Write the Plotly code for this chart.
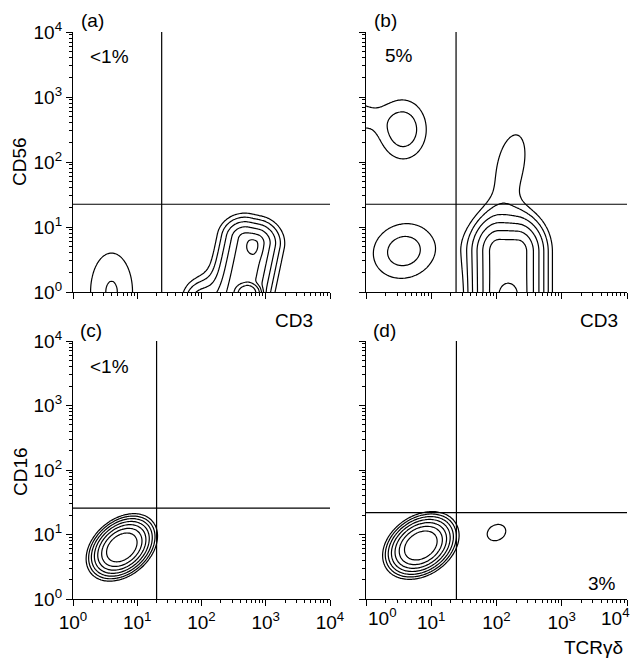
import numpy as np
import plotly.graph_objects as go

W, H = 639, 668
FONT = "Liberation Sans, Arial, Helvetica, sans-serif"

# ---------------- data ----------------
panel_names = ["(a)", "(b)", "(c)", "(d)"]
percent_text = ["<1%", "5%", "<1%", "3%"]
gate_x = [24.0, 24.0, 20.0, 24.3]      # vertical quadrant marker (x value)
gate_y = [22.4, 22.4, 25.7, 21.9]      # horizontal quadrant marker (y value)

tick_vals = [1, 10, 100, 1000, 10000]
tick_text = ["10<sup>0</sup>", "10<sup>1</sup>", "10<sup>2</sup>", "10<sup>3</sup>", "10<sup>4</sup>"]

# contour levels (log10 of relative event density)
level_start = -1.17
level_step = 0.165
level_count = 7

# cell populations per panel, in log10 units:
# centre u (x), centre v (y), fall-off su, sv, core half-size hu, hv,
# tilt (deg), fall-off exponent k, weight
pop_a_u = [0.60, 2.58, 2.80, 2.73, 1.95]
pop_a_v = [-0.30, -0.10, 0.70, -0.02, -0.15]
pop_a_su = [0.36, 0.196, 0.08, 0.16, 0.20]
pop_a_sv = [0.66, 0.18, 0.10, 0.123, 0.25]
pop_a_hu = [0.0, 0.08, 0.0, 0.0, 0.0]
pop_a_hv = [0.30, 0.90, 0.0, 0.0, 0.0]
pop_a_ang = [0, -12, 0, 0, 0]
pop_a_k = [2, 1.5, 2, 4, 2]
pop_a_w = [0.102, 0.389, 0.13, 0.45, 0.14]

pop_b_u = [0.57, -0.30, 0.58, 2.18, 2.22, 2.18]
pop_b_v = [2.50, 2.72, 0.63, -0.19, 1.97, -0.04]
pop_b_su = [0.33, 0.30, 0.46, 0.20, 0.25, 0.12]
pop_b_sv = [0.42, 0.22, 0.40, 0.25, 0.58, 0.15]
pop_b_hu = [0.0, 0.0, 0.0, 0.14, 0.0, 0.0]
pop_b_hv = [0.0, 0.0, 0.0, 0.81, 0.0, 0.0]
pop_b_ang = [0, 0, 20, 0, -12, 0]
pop_b_k = [2, 2, 2, 1.5, 2, 2]
pop_b_w = [0.12, 0.10, 0.115, 0.61, 0.092, 0.10]

pop_c_u = [0.76]
pop_c_v = [0.80]
pop_c_su = [0.265]
pop_c_sv = [0.185]
pop_c_hu = [0.0]
pop_c_hv = [0.0]
pop_c_ang = [40]
pop_c_k = [2]
pop_c_w = [1.1]

pop_d_u = [0.84, 2.00]
pop_d_v = [0.83, 1.03]
pop_d_su = [0.27, 0.20]
pop_d_sv = [0.195, 0.16]
pop_d_hu = [0.0, 0.0]
pop_d_hv = [0.0, 0.0]
pop_d_ang = [35, 30]
pop_d_k = [2, 2]
pop_d_w = [1.1, 0.089]

x_titles = ["CD3", "CD3", None, "TCR\u03b3\u03b4"]
y_titles = ["CD56", None, "CD16", None]

# ---------------- geometry (pixels) ----------------
col_px = [(73, 330), (366, 627)]
row_px = [(32, 292), (341, 599)]


def fx(px):
    return px / W


def fy(py):
    return 1 - py / H


grid = np.arange(-0.6, 4.21, 0.02)
U, V = np.meshgrid(grid, grid)


def density(us, vs, sus, svs, hus, hvs, angs, ks, ws):
    z = np.zeros_like(U)
    for u0, v0, su, sv, hu, hv, ang, k, w in zip(us, vs, sus, svs, hus, hvs, angs, ks, ws):
        th = np.deg2rad(ang)
        du, dv = U - u0, V - v0
        a = du * np.cos(th) + dv * np.sin(th)
        b = -du * np.sin(th) + dv * np.cos(th)
        a = np.maximum(np.abs(a) - hu, 0) / su
        b = np.maximum(np.abs(b) - hv, 0) / sv
        rr = np.sqrt(a ** 2 + b ** 2)
        z += w * np.exp(-0.5 * rr ** k)
    return np.round(np.log10(z + 1e-6), 4)


pops = [
    (pop_a_u, pop_a_v, pop_a_su, pop_a_sv, pop_a_hu, pop_a_hv, pop_a_ang, pop_a_k, pop_a_w),
    (pop_b_u, pop_b_v, pop_b_su, pop_b_sv, pop_b_hu, pop_b_hv, pop_b_ang, pop_b_k, pop_b_w),
    (pop_c_u, pop_c_v, pop_c_su, pop_c_sv, pop_c_hu, pop_c_hv, pop_c_ang, pop_c_k, pop_c_w),
    (pop_d_u, pop_d_v, pop_d_su, pop_d_sv, pop_d_hu, pop_d_hv, pop_d_ang, pop_d_k, pop_d_w),
]

minor_vals = [m * 10 ** e for e in range(4) for m in range(2, 10)]

fig = go.Figure()
layout = dict(
    width=W, height=H, autosize=False,
    margin=dict(l=0, r=0, t=0, b=0, autoexpand=False),
    paper_bgcolor="white", plot_bgcolor="white",
    showlegend=False,
    font=dict(family=FONT, size=19, color="black"),
)

xs = 10 ** grid
for i in range(4):
    r, c = divmod(i, 2)
    n = "" if i == 0 else str(i + 1)
    xa, ya = "x" + n, "y" + n
    x0, x1 = col_px[c]
    y0, y1 = row_px[r]
    base = dict(
        type="log", range=[0, 4], showline=True, linecolor="black", linewidth=1.3,
        ticks="outside", ticklen=6, tickwidth=1.2, tickcolor="black",
        tickmode="array", tickvals=tick_vals, ticktext=tick_text,
        minor=dict(tickmode="array", tickvals=minor_vals, ticks="outside", ticklen=3,
                   tickwidth=1, tickcolor="black", showgrid=False),
        showgrid=False, zeroline=False, mirror=False, fixedrange=True, automargin=False,
        tickfont=dict(family=FONT, size=19, color="black"),
    )
    xt = list(tick_text)
    if c == 1:
        # edge labels of the right-hand axis are nudged inward (drawn as annotations below)
        xt[0] = ""
        xt[-1] = ""
    layout["xaxis" + n] = dict(base, ticktext=xt, domain=[fx(x0), fx(x1)], anchor=ya,
                               showticklabels=(r == 1))
    layout["yaxis" + n] = dict(base, domain=[fy(y1), fy(y0)], anchor=xa,
                               showticklabels=(c == 0))

    z = density(*pops[i])
    fig.add_trace(go.Contour(
        x=xs, y=xs, z=z, autocontour=False,
        contours=dict(coloring="none", start=level_start,
                      end=level_start + level_step * (level_count - 1) + 1e-6,
                      size=level_step),
        line=dict(color="black", width=1.2, smoothing=0.7),
        showscale=False, hoverinfo="skip", xaxis=xa, yaxis=ya,
    ))
    fig.add_trace(go.Scatter(x=[gate_x[i], gate_x[i]], y=[1, 10000], mode="lines",
                             line=dict(color="black", width=1.2),
                             hoverinfo="skip", xaxis=xa, yaxis=ya))
    fig.add_trace(go.Scatter(x=[1, 10000], y=[gate_y[i], gate_y[i]], mode="lines",
                             line=dict(color="black", width=1.2),
                             hoverinfo="skip", xaxis=xa, yaxis=ya))

annotations = []


def txt(s, x, y, angle=0, size=19):
    annotations.append(dict(text=s, x=fx(x), y=fy(y), xref="paper", yref="paper",
                            xanchor="center", yanchor="middle", showarrow=False,
                            textangle=angle, font=dict(family=FONT, size=size, color="black")))


label_pos = [(92, 20), (385, 20), (91, 330), (384, 330)]
pct_pos = [(109, 56), (399, 55), (109, 366), (602, 583)]
for i in range(4):
    txt(panel_names[i], *label_pos[i])
    txt(percent_text[i], *pct_pos[i])

txt(y_titles[0], 20, 162, angle=-90)
txt(y_titles[2], 20, 472, angle=-90)
txt(x_titles[0], 294, 320)
txt(x_titles[1], 599, 320)
txt(x_titles[3], 593, 647)
# nudged edge tick labels of panel (d)
txt(tick_text[0], 382, 617)
txt(tick_text[-1], 615, 617)

layout["annotations"] = annotations
fig.update_layout(**layout)
fig.write_html("out.html", config={"displayModeBar": False},
               post_script="document.body.style.margin='0px';")
